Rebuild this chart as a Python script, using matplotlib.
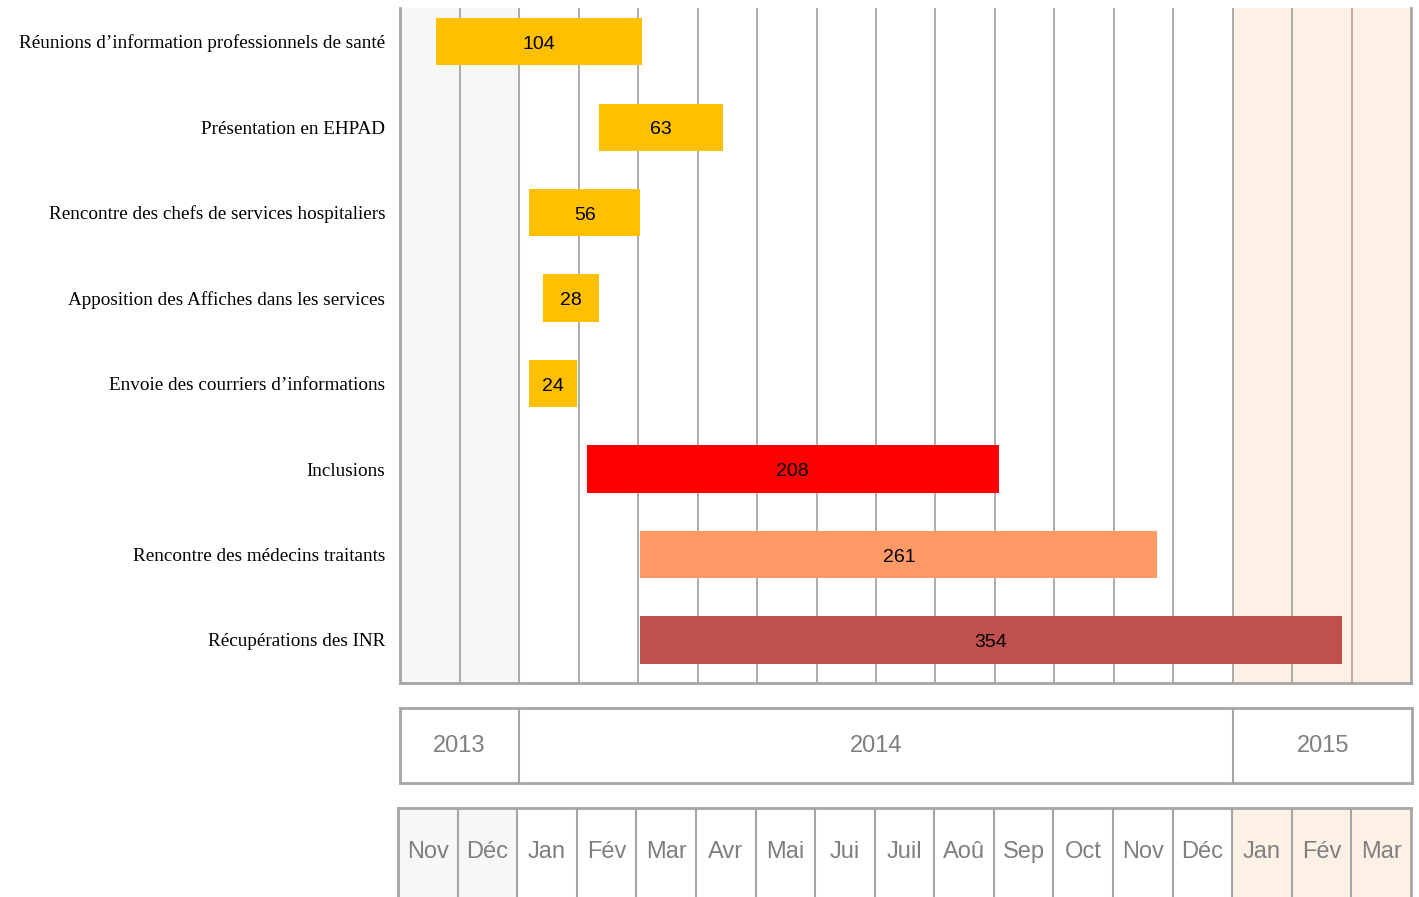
import numpy as np
import matplotlib
matplotlib.use("Agg")
import matplotlib.pyplot as plt

# tâches (de haut en bas), début en jours depuis le 1er nov 2013, durée en jours
taches = ["Réunions d’information professionnels de santé",
          "Présentation en EHPAD",
          "Rencontre des chefs de services hospitaliers",
          "Apposition des Affiches dans les services",
          "Envoie des courriers d’informations",
          "Inclusions",
          "Rencontre des médecins traitants",
          "Récupérations des INR"]
debut = [18, 100, 65, 72, 65, 94, 121, 121]
duree = [104, 63, 56, 28, 24, 208, 261, 354]
couleurs = ["#FFC000", "#FFC000", "#FFC000", "#FFC000", "#FFC000",
            "#FF0000", "#FF9966", "#C0504D"]

mois = ["Nov", "Déc", "Jan", "Fév", "Mar", "Avr", "Mai", "Jui", "Juil",
        "Aoû", "Sep", "Oct", "Nov", "Déc", "Jan", "Fév", "Mar"]
annees = ["2013", "2014", "2015"]
mois_par_annee = [2, 12, 3]

JM = 30.0  # jours par mois (colonnes de largeur égale)
n_mois = len(mois)
gris = "#a6a6a6"
gris_txt = "#7f7f7f"
fond_gris = "#f7f7f7"
fond_peche = "#fdf0e4"
narrow = ["Liberation Sans Narrow", "Liberation Sans", "DejaVu Sans"]
serif = ["Liberation Serif", "DejaVu Serif"]

W, H = 1419, 897
fig = plt.figure(figsize=(W / 100, H / 100), dpi=100)


def box(x0, y0, x1, y1):
    return [x0 / W, 1 - y1 / H, (x1 - x0) / W, (y1 - y0) / H]


# --- Gantt ---
ax = fig.add_axes(box(400.5, 8, 1411, 683))
ax.set_xlim(0, n_mois * JM)
rows = np.arange(len(taches))
ax.set_ylim(7.503, -0.392)
ax.axvspan(0, 2 * JM, color=fond_gris, zorder=0)
ax.axvspan(14 * JM, n_mois * JM, color=fond_peche, zorder=0)
for k in range(1, n_mois):
    ax.axvline(k * JM, color=gris, lw=1.3, zorder=1)
ax.barh(rows, duree, left=debut, height=0.55, color=couleurs, zorder=2)
for r, s, d in zip(rows, debut, duree):
    ax.text(s + d / 2, r + 0.03, str(d), ha="center", va="center",
            fontsize=14, family=narrow, color="black", zorder=3)
ax.set_yticks(rows, taches, family=serif, fontsize=13.8)
ax.tick_params(axis="y", length=0, pad=11)
ax.set_xticks([])
ax.spines["top"].set_visible(False)
for s in ["left", "bottom", "right"]:
    ax.spines[s].set_color(gris)
    ax.spines[s].set_linewidth(2)

# --- années ---
ay = fig.add_axes(box(400, 708, 1412, 783))
ay.set_xlim(0, n_mois)
ay.set_ylim(0, 1)
pos = 0
for a, n in zip(annees, mois_par_annee):
    if pos > 0:
        ay.axvline(pos, color=gris, lw=1.5)
    ay.text(pos + n / 2, 0.5, a, ha="center", va="center", fontsize=17,
            family=narrow, color=gris_txt)
    pos += n
ay.set_xticks([])
ay.set_yticks([])
for s in ay.spines.values():
    s.set_color(gris)
    s.set_linewidth(2)

# --- mois ---
am = fig.add_axes(box(398, 808, 1411, 905))
am.set_xlim(0, n_mois)
am.set_ylim(0, 1)
am.axvspan(0, 2, color=fond_gris, zorder=0)
am.axvspan(14, n_mois, color=fond_peche, zorder=0)
for k in range(1, n_mois):
    am.axvline(k, color=gris, lw=1.5)
for k, m in enumerate(mois):
    am.text(k + 0.5, 0.55, m, ha="center", va="center", fontsize=17,
            family=narrow, color=gris_txt)
am.set_xticks([])
am.set_yticks([])
am.spines["bottom"].set_visible(False)
for s in ["left", "top", "right"]:
    am.spines[s].set_color(gris)
    am.spines[s].set_linewidth(2)

fig.savefig("out.png", dpi=100, facecolor="white")
